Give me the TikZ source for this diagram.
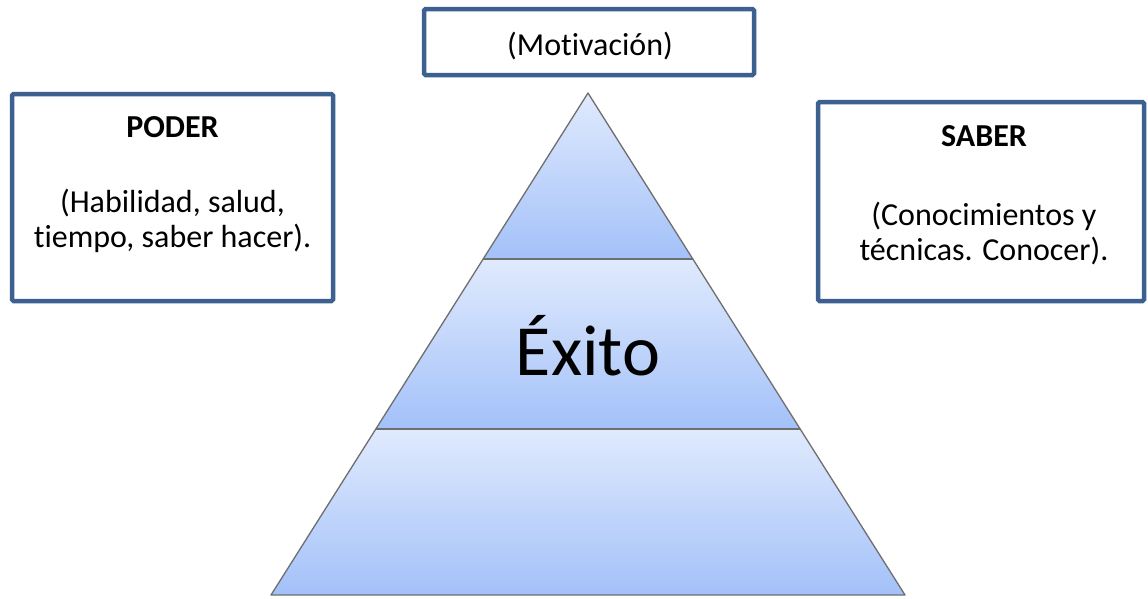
\documentclass[tikz,border=0pt]{standalone}
\usepackage{fontspec}
\setmainfont{Carlito}[Ligatures=NoCommon]
\definecolor{boxblue}{HTML}{3C6090}
\definecolor{pyrtop}{HTML}{E0EAFD}
\definecolor{pyrbot}{HTML}{A3C1F9}
\definecolor{pyrline}{HTML}{6E6E6E}
\begin{document}
\begin{tikzpicture}[x=1pt,y=-1pt,
  box/.style={draw=boxblue, line width=4.5pt, rounded corners=1.5pt, inner sep=0pt, fill=white},
  txt/.style={anchor=base, font=\fontsize{32}{35}\selectfont, inner sep=0pt},
  seg/.style={draw=pyrline, line width=1.3pt, line join=round}]
\useasboundingbox (0,0) rectangle (1148,598);
% boxes
\node[box, minimum width=330pt, minimum height=66pt] (motiv) at (589,42) {};
\node[box, minimum width=321pt, minimum height=207pt] (poder) at (172.5,197.5) {};
\node[box, minimum width=326pt, minimum height=199pt] (saber) at (981,201.5) {};
% texts
\node[txt] (motivT) at (590,55) {(Motivación)};
\node[txt, font=\fontsize{32}{35}\selectfont\bfseries] (poderT) at (172.5,137) {PODER};
\node[txt] (poderA) at (172.5,212) {(Habilidad, salud,};
\node[txt] (poderB) at (172.5,247) {tiempo, saber hacer).};
\node[txt, font=\fontsize{32}{35}\selectfont\bfseries] (saberT) at (984,146) {SABER};
\node[txt] (saberA) at (984,225) {(Conocimientos y};
\node[txt] (saberB) at (984,260) {técnicas. Conocer).};
% pyramid
\coordinate (apex) at (588,93);
\coordinate (l1) at (483,259);
\coordinate (r1) at (693,259);
\coordinate (l2) at (376,429);
\coordinate (r2) at (800,429);
\coordinate (l3) at (271,595);
\coordinate (r3) at (905,595);
\shade[top color=pyrtop, bottom color=pyrbot] (apex) -- (r1) -- (l1) -- cycle;
\shade[top color=pyrtop, bottom color=pyrbot] (l1) -- (r1) -- (r2) -- (l2) -- cycle;
\shade[top color=pyrtop, bottom color=pyrbot] (l2) -- (r2) -- (r3) -- (l3) -- cycle;
\draw[seg] (apex) -- (r3) -- (l3) -- cycle;
\draw[seg] (l1) -- (r1);
\draw[seg] (l2) -- (r2);
\node[anchor=base, inner sep=0pt, font=\fontsize{72}{80}\selectfont] (exito) at (588,375) {Éxito};
\end{tikzpicture}
\end{document}
